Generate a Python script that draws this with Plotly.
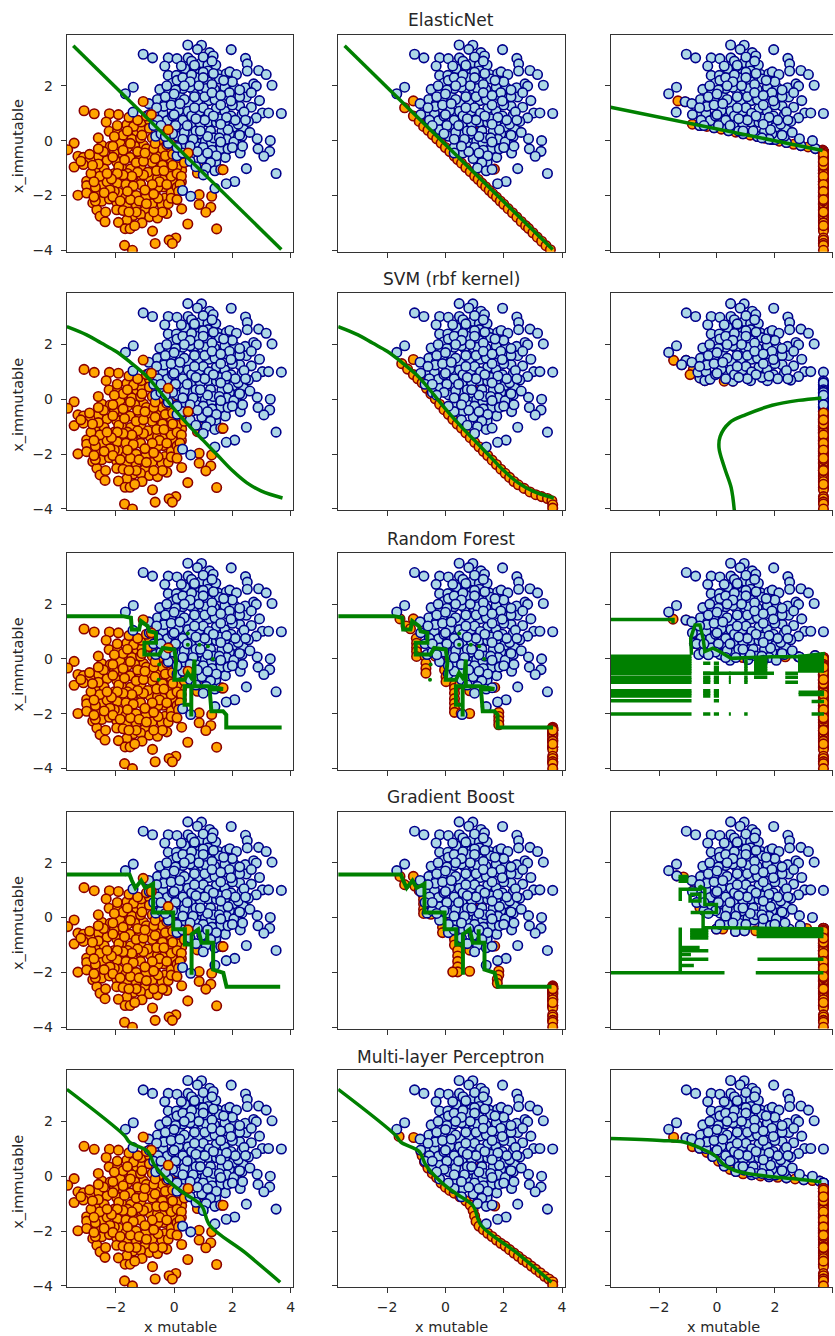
import numpy as np
import plotly.graph_objects as go

MODEL_TITLES = ["ElasticNet", "SVM (rbf kernel)", "Random Forest", "Gradient Boost", "Multi-layer Perceptron"]
X_TICKS = [-2, 0, 2, 4]
Y_TICKS = [-4, -2, 0, 2]

BLUE_X = [-1.06,-.74,.47,.94,.80,1.22,1.96,1.34,-.2,.1,.48,-.32,2.45,2.51,2.51,2.9,3.16,3.36,.94,1.16,1.43,.37,.25,.73,.88,1.16,-.2,.08,.46,.86,1.16,1.51,1.79,1.91,2.14,-.49,-.18,-1.4,-1.67,.19,.65,.97,1.39,1.74,2.08,2.44,2.73,2.82,2.48,2.93,1.79,2.1,1.19,.82,-.57,-.87,-.32,.06,.5,.88,1.45,1.74,2.65,2.25,3.03,3.24,3.68,2.82,2.33,-.66,-.38,.22,-.24,.48,1.16,1.45,1.74,2.02,2.37,.57,.19,.11,.57,.94,1.64,2.02,2.33,.94,1.07,1.59,1.28,2.85,3.3,2.88,3.28,3.08,2.27,1.03,1.76,1.43,2.48,3.5,2.08,1.79,.29,.57,-.63,-1.41,1.11,1.4,
    1.1,.7,1.4,1.0,.3,.55,-.1,.35,1.6,2,1.95,1.55,1.2,.9,.6,.3,-.05,-.2,.05,.35,.75,1.25,1.9,2.2,2.55,1.35,1.8,.45,.75,1.3,1.85,.6,1.0,1.45,.3,2.05,2.25,.15,.75,1.0,1.55,2.0,-.05,.05,-.35,-.55,-.85,-.1,1.9,2.25,.95,1.25,.55,.1,-.2,-.45,-.7,
    1.0,1.3,.6,.7,.1,.3,.6,1.0,1.35,1.7,1.3,.85,.55,.35,-.25,-.3,.0,-.6,.2,.7,1.05,1.3,1.6,1.95,2.25,2.65,2.4,2.1,1.8,1.35,1.05,.75,.45,.0,-.45,.3,.65,1.15,1.55,1.85,1.6,.9,.3,.8,1.15,1.6,2.0,2.35,2.6,2.45,-.05,-.3,.1,.55,1.1,1.0,.75,1.4,1.6]
BLUE_Y = [3.15,3.02,3.49,3.48,3.33,3.21,3.32,3.09,3.02,2.99,3.02,2.72,3.0,2.8,2.54,2.56,2.41,2.02,2.84,2.76,2.76,2.62,2.72,2.6,2.44,2.54,2.38,2.38,2.17,2.17,2.15,2.41,2.44,2.51,2.41,1.87,1.84,1.95,1.71,1.65,1.87,1.87,1.87,1.95,1.93,1.93,2.07,1.99,1.59,1.46,1.65,1.56,1.46,1.46,1.5,1.35,1.34,1.28,1.34,1.07,1.17,1.07,1.22,1.26,1.01,1.01,.99,.83,.95,.99,1.01,.99,.73,1.07,.68,.67,.68,.49,.46,.56,.56,.16,.22,.22,.34,.04,.16,-.09,-.02,-.3,-.09,.07,0,-.3,-.39,-.57,-.45,-.54,-.61,-.78,-1.02,-1.2,-1.49,-1.57,-1.82,-2.03,.16,1.04,-.75,-1.74,
    1.9,1.6,1.5,1.2,1.9,1.95,1.55,1.5,1.3,1.3,.9,.8,1,.6,.9,.75,.9,.4,.55,.3,.35,.35,.25,.6,.7,.1,.05,-.05,-.2,-.35,-.3,-.45,-.25,-.55,-.25,-.05,.2,1.1,2.3,2.5,2.25,2.15,2.1,1.85,1.25,.75,.95,1.3,1.75,1.6,-.65,-.8,-.75,-.55,-.1,.25,.55,
    3.05,2.9,2.9,2.75,2.2,2.3,2.4,2.3,2.45,2.2,2.05,2.0,2.15,2.0,2.0,1.6,1.7,1.2,1.35,1.2,1.6,1.75,1.65,1.45,1.85,1.75,1.05,.75,.85,.9,.75,.8,.55,.95,.55,.05,.05,.15,.1,.4,.6,.35,-.45,-.4,-.45,-.05,-.25,-.2,.3,.75,.25,.15,-.25,-.2,-1.0,-1.25,-.95,-1.1,-1.05]

ORANGE_X = [-3.09,-2.74,-2.22,-1.91,-2.33,-1.62,-2.23,-1.94,-1.57,-3.43,-3.65,-2.48,-2.19,-3.3,-3.11,-2.88,-2.59,-3.43,-3.11,-2.3,-1.97,-1.79,-1.51,-1.17,-.82,-.5,-.19,-1.05,-1.28,-1.11,-.19,-1.39,-1.13,-2.68,-2.4,-2.25,-1.79,-1.49,-1.14,-.59,-.25,.13,.26,.51,.8,1.66,.95,-3,-3,-2.45,-1.85,-1.43,-1.11,-.82,-.57,-.31,-.02,-.37,-3.3,-3,-2.65,-1.91,-1.45,-.82,-.97,-.65,-.31,0,-.42,.86,1.29,.86,1.26,1.09,.26,-2.79,-2.48,-2.22,-1.97,-2.65,-2.54,-2.37,-1.62,-1.97,-1.4,-1.62,-1.91,-1,-.85,-.57,-.25,.47,1.46,-1.68,-1.51,-.74,.06,-.17,-.06,-.65,-1.7,-1.43,
    -2.05,-1.85,-1.35,-1.3,-.95,-.75,-.4,-.1,-1.6,-2.05,-1.95,-1.65,-1.15,-.9,-.6,-.2,-.55,-1.3,-1.65,-2.05,-1.75,-1.45,-1.15,-.75,-.45,-.4,-.7,-2.3,-2.2,-.1,-.75,-1.3,-1.15,-1.75,-.55,-.85,-.45,-.15,
    -2.6,-2.42,-2.1,-1.9,-1.7,-1.6,-1.25,-1.05,-.65,-.3,-.05,.1,-.1,-.35,-.5,-.75,-1.05,-1.25,-1.45,-1.75,-1.95,-2.15,-2.55,-2.7,-2.4,-2.1,-1.85,-1.5,-1.2,-.95,-.55,-.2,-.1,.1,.25,.1,-1.4,-1,-.7,-.25,-1.6,-2.3,-2.85,-2.1,-1.75,-1.5,-1.0,-.65,-.25,-.1,-1.95,-1.55,-1.25,-.95,-1.6,-1.1,-.85,-.6,-.5,-1.3,-1.55,-2.35,-2.7,-.4,-.7,-1.1,-1.35,.1,.3,-.05,.35,
    -2.9,-2.8,-3.2,-2.75,-2.6,-2.6,-2.05,-2.75,.25,.2,.15,.1]
ORANGE_Y = [1.09,.98,.98,.95,.68,.58,.34,.34,.12,-.09,-.33,-.17,-.21,-.57,-.61,-.67,-.57,-.96,-.87,-.72,-.78,-.45,-.61,-.57,-.57,-.57,-.39,-.17,.34,.4,.4,.52,.68,-1.03,-1.03,-1.28,-1,-1.03,-.96,-.84,-.94,-.75,-1.08,-.45,-1.18,-1.06,-1,-1.48,-1.64,-1.6,-1.42,-1.48,-1.3,-1.36,-1.36,-1.34,-1.54,-1.69,-1.99,-1.91,-1.88,-1.88,-1.82,-1.88,-2.07,-1.91,-2.09,-1.99,-2.33,-1.97,-2.03,-2.33,-2.43,-2.61,-2.49,-2.27,-2.21,-2.13,-2.25,-2.52,-2.76,-2.96,-2.33,-2.52,-2.73,-2.9,-2.98,-2.55,-2.78,-2.82,-2.66,-3.04,-3.22,-3.21,-3.21,-3.3,-3.55,-3.63,-3.75,-3.75,-3.82,-4.0,
    -.45,-.1,-.2,-.8,-.3,-.8,-.9,-.7,-1.2,-1.2,-1.55,-1.6,-1.6,-1.15,-1.1,-1.15,-1.7,-2,-2.05,-1.85,.2,.05,.1,.1,.05,-.3,-.3,-1.5,-1.8,-1.9,-2.3,-2.35,-2.7,-2.55,.7,.75,1.0,.1,
    -.85,-.4,-.6,-.95,-.7,-.25,-.4,-.75,-.65,-.55,-.5,-.95,-1.3,-1.1,-1.5,-1.6,-1.25,-1.15,-1.3,-1.25,-1.2,-1.4,-1.3,-1.7,-1.9,-2.05,-2.2,-2.15,-2.2,-2.3,-2.1,-2.3,-2.1,-1.7,-1.5,-1.2,-1.65,-1.8,-1.95,-1.6,-1.85,-1.2,-1.2,-.2,-.35,-.1,-.45,-.1,-.15,0,.55,.85,.75,.9,.35,.2,.45,.35,.55,-2.6,-2.6,-2.6,-2.2,-2.6,-2.6,-3,-3.1,-.2,-.25,-.9,-.8,
    -.5,-.9,-.75,-1.5,-.3,.1,.15,-2.05,-1.3,-1.6,-1.85,-2.15]
ORANGE_TOP_X = [-1.06,-.78,-.2,.48,1.68]
ORANGE_TOP_Y = [1.43,.95,.4,-.45,-1.06]

CLIP_X = 3.68

EN_X = [-3.46,3.68]
EN_Y = [3.46,-3.97]
SVM_X = [-3.68,-3,-2.5,-2,-1.5,-1,-.5,0,.5,1,1.5,2,2.5,3,3.72]
SVM_Y = [2.65,2.35,2.05,1.75,1.35,.9,.3,-.35,-.95,-1.5,-2.05,-2.6,-3.05,-3.35,-3.6]
RF_X = [-3.68,-1.77,-1.48,-1.45,-1.2,-1.14,-.91,-.85,-.62,-.62,-1.02,-1.02,-.51,-.39,.01,.07,.01,.36,.47,.64,.7,.7,.36,.36,.59,.59,.59,1.16,1.68,1.22,1.28,1.68,1.79,1.79,3.69]
RF_Y = [1.56,1.56,1.5,1.07,1.07,1.38,1.2,1.01,.95,.59,.59,.16,.16,.4,.34,-.09,-.76,-.76,-.51,-.76,-.02,-1,-1,-1.67,-1.67,-2.1,-1,-1,-1.1,-1.12,-1.91,-1.91,-2.04,-2.5,-2.5]
RF_DOTS_X = [.47,.47,.87,1.16,1.33,-.51,-.53]
RF_DOTS_Y = [.93,.52,.52,.46,0,-.2,-.76]
GB_X = [-3.68,-1.53,-1.45,-1.33,-1.13,-.99,-.72,-.72,-.03,-.03,.37,.37,.6,.6,.6,.83,.94,1.14,1.14,1.14,1.34,1.34,1.69,1.8,3.64]
GB_Y = [1.57,1.57,1.35,1.08,1.35,1.08,1.23,.18,.18,-.43,-.43,-.98,-.98,-2.09,-.61,-.43,-.92,-.92,-.43,-.92,-.92,-1.9,-2.02,-2.52,-2.52]
MLP_X = [-3.68,-1.7,-1.53,-.9,-.67,-.09,.37,.94,1.23,2.44,3.64]
MLP_Y = [3.17,1.48,1.24,.9,.4,-.27,-.64,-1.07,-1.8,-2.79,-3.87]

EN2_X = [-1.4,-1.1,-.9,-.75,-.6,-.45,-.3,-.15,0,.15,.3,.42,.55,.7,.85,1,1.12,1.25,1.38,1.5,1.62,1.75,1.88,2,2.15,2.3,2.45,2.6,2.75,2.85,3,3.15,3.3,3.45,3.6,1.68,1.22,-1.1]
EN2_Y = [1.2,.9,.7,.52,.38,.22,.07,-.09,-.25,-.4,-.56,-.69,-.82,-.98,-1.13,-1.29,-1.41,-1.55,-1.68,-1.81,-1.93,-2.06,-2.2,-2.32,-2.48,-2.63,-2.79,-2.95,-3.1,-3.2,-3.36,-3.52,-3.67,-3.83,-3.98,-1.04,.4,1.45]
SVM2_X = [-1.5,-1.3,-1.1,-.95,-.8,-.65,-.5,-.35,-.2,-.05,.1,.25,.4,.55,.7,.85,1,1.15,1.3,1.45,1.6,1.75,1.9,2.05,2.2,2.35,2.5,2.7,2.9,3.1,3.3,3.5,3.65,3.68,3.68,-1.1,1.22]
SVM2_Y = [1.3,1.1,.9,.75,.6,.4,.2,.02,-.18,-.38,-.55,-.73,-.9,-1.05,-1.22,-1.4,-1.57,-1.73,-1.9,-2.05,-2.22,-2.38,-2.55,-2.7,-2.85,-3,-3.12,-3.25,-3.38,-3.48,-3.55,-3.62,-3.7,-3.85,-3.97,1.45,.4]
RF2_X = [-1.56,-1.1,-1.35,-1.2,-.75,-1.0,-.99,-.99,-.99,-.99,-.7,-.67,-.67,-.67,-.35,-.2,-.03,-.03,.02,.02,.31,.31,.31,.31,.31,.31,.31,.54,.83,.83,1.69,1.4,1.83,1.83,1.83,1.83,1.23,.1,.5]
RF2_Y = [1.46,1.46,1.2,1.1,1.1,.75,.57,.42,.27,.09,.1,-.16,-.35,-.52,.1,.05,-.2,-.4,-.65,-.83,-.95,-1.07,-1.25,-1.45,-1.62,-1.8,-1.95,-1.99,-1.99,-1.16,-1.04,-1.05,-1.95,-2.1,-2.25,-2.4,.41,-.5,-.9]
GB2_X = [-1.56,-1.1,-1.4,-1.05,-.9,-.78,-.75,-.75,-.75,-.75,-.5,-.2,-.1,-.08,-.1,-.1,.15,.31,.31,.31,.42,.42,.42,.42,.42,.25,.83,.83,1.69,1.83,1.83,1.78,1.78,1.23]
GB2_Y = [1.5,1.5,1.2,1.15,.98,.85,.65,.49,.3,.15,.12,.15,.05,-.15,-.35,-.55,-.55,-.6,-.8,-1,-1.2,-1.4,-1.6,-1.8,-1.98,-1.98,-1.96,-1.19,-1.04,-1.95,-2.1,-2.25,-2.4,.43]
MLP2_X = [-1.59,-1.09,-.84,-.72,-.21,.48,1.69,1.23,-.8,-.7,-.6,-.45,-.3,-.15,0,.15,.3,.5,.7,.85,.95,1,1.05,1.15,1.3,1.45,1.6,1.75,1.9,2.05,2.2,2.35,2.5,2.65,2.8,2.95,3.1,3.25,3.4,3.55,3.68,3.68]
MLP2_Y = [1.45,1.41,.9,.53,.4,-.45,-1.09,.38,.75,.5,.3,.1,-.05,-.25,-.4,-.52,-.62,-.75,-.9,-1.05,-1.25,-1.45,-1.65,-1.82,-1.95,-2.08,-2.2,-2.33,-2.45,-2.55,-2.68,-2.8,-2.92,-3.05,-3.15,-3.28,-3.4,-3.52,-3.65,-3.75,-3.85,-3.97]

RF_FLOOR_X = [-4,-1.5,-1.1,-.7,-.1,.3,.7,1.3,1.8,4]
RF_FLOOR_Y = [1.5,1.5,.1,-.1,-.8,-1.7,-2.2,-1.9,-2.5,-2.5]
GB_FLOOR_X = [-4,-1.5,-.75,-.1,.35,.7,1.3,1.8,4]
GB_FLOOR_Y = [1.5,1.5,.1,-.5,-1.7,-2.2,-1.9,-2.5,-2.5]

EN3_X = [-3.68,3.65]
EN3_Y = [1.22,-.36]
SVM3_X = [.6,.49,.26,.07,.11,.43,1,1.91,2.82,3.61]
SVM3_Y = [-4.07,-3.22,-2.5,-1.77,-1.35,-.86,-.56,-.22,-.04,.05]
MLP3_X = [-3.68,-1.95,-1.16,-.59,-.08,.26,.77,1.91,2.82,3.61]
MLP3_Y = [1.37,1.3,1.25,1.03,.76,.4,.16,-.02,-.11,-.21]

RF3_PATH_X = [-3.68,-1.52,-1.52,None,-.88,-.91,-.76,-.59,-.48,-.42,-.14,.09,.49,1.91,2.82,3.73]
RF3_PATH_Y = [1.44,1.44,1.3,None,.15,.75,1.24,1.24,.75,.27,.39,.27,.02,.08,.08,.2]
RF3_UPPER = [.1,.01,-.08,-.17,-.26,-.35,-.44,-.53]
RF3_MID = [-.67,-.77,-.85]
RF3_LOW = [-1.16,-1.25,-1.35]
RF3_LOWER = [-1.53]
RF3_BOTTOM = [-2.01]
GB3_PATH_A_X = [-3.68,.26,None,-1.27,-1.27]
GB3_PATH_A_Y = [-2.01,-2.01,None,-2.01,-.36]
GB3_PATH_B_X = [-1.27,-1.27,-.59,-.59,-.42,-.42,-.02,-.02,-.91,None,-.48,-.48,3.6,None,-.93,-.93,-.59,-.59,-.93]
GB3_PATH_B_Y = [.6,1.03,1.03,1.15,1.03,.48,.48,.18,.18,None,.18,-.36,-.42,None,.85,.6,.6,.85,.85]
GB3_BAND = [-.42,-.51,-.6,-.69]
GB3_STUB = [-.45,-.55,-.65,-.75]
GB3_TOP = [1.32,1.42,1.5]

EN3_RING_X = [-1.35,-1.1,-.85,-.6,-.35,-.1,.15,.4,.65,.9,1.15,1.4,1.65,1.9,2.15,2.4,2.65,2.9,3.15,3.4,3.65]
EN3_RING_Y = [1.45,1.42,.6,.55,.52,.47,.42,.36,.31,.25,.2,.15,.09,.04,-.02,-.07,-.13,-.18,-.23,-.29,-.34]
SVM3_RING_X = [-1.5,-1.07,-.82,-.59,-.31,-1.22,-.93,-.42,.25,.55]
SVM3_RING_Y = [1.42,1.42,1.08,.78,.72,1.26,.9,.68,.66,.66]
RF3_RING_X = [-1.52,-1.07,-.65,-.78,-.53,-.02,.49,1.17,1.99,2.82,-.36,.2,.89,1.68,2.36,3.39]
RF3_RING_Y = [1.45,1.42,.93,.57,.29,.39,.08,.36,.05,.08,.2,.14,.05,.05,.08,.12]
GB3_RING_X = [-1.16,-1.39,-.76,-.39,-.59,-.14,.26,-.02,.2,.64,1.34,1.2,.3,.95,1.9,2.5,3.1]
GB3_RING_Y = [1.48,1.52,1.07,.67,.36,.3,-.15,-.42,-.42,-.51,-.48,.41,.1,-.48,-.45,-.42,-.4]
MLP3_RING_X = [-1.5,-1.07,-.85,-.6,-.35,-.15,.05,.25,.45,.65,.9,1.2,1.5,1.8,2.1,2.4,2.7,3,3.3,3.55]
MLP3_RING_Y = [1.42,1.4,1.08,1.02,.87,.72,.55,.37,.25,.17,.09,.05,.01,-.02,-.04,-.06,-.1,-.13,-.16,-.18]

SVM3_FLOOR_X = [-4,-1.5,-1,-.4,4]
SVM3_FLOOR_Y = [1.6,1.45,1.05,.68,.68]
RF3_FLOOR_X = [-4,-1.5,-1.1,-.5,4]
RF3_FLOOR_Y = [1.3,1.3,.4,-.05,-.05]
GB3_FLOOR_X = [-4,-1.3,-.9,-.5,0,4]
GB3_FLOOR_Y = [1.2,1.1,.6,.2,-.3,-.35]

COL3_BLUE_THR = [-.36,.68,-.05,-.35,-.21]
COL3_ORANGE_THR = [-.35,-.45,.1,-.35,-.4]
COL2_ORANGE_THR = [None,None,-2.45,-2.45,None]

BX, BY, OX, OY = map(np.array, (BLUE_X, BLUE_Y, ORANGE_X, ORANGE_Y))

PANEL_W = 227
PANEL_H = 218
COL_LEFT = [67, 339, 612]
ROW_TOP = [35, 295, 556, 816, 1076]
TITLE_Y = [20, 280, 542, 801, 1063]
LABEL_Y = 1334
X_RANGE = [-3.68, 4.09]
Y_RANGE = [-4.05, 3.86]
PX_PER_X = PANEL_W / (X_RANGE[1] - X_RANGE[0])
W, H = 835, 1336

BLUE_STYLE = dict(color="#add8e6", size=9.5, line=dict(color="#00008b", width=1.6))
ORANGE_STYLE = dict(color="#ffa500", size=9.5, line=dict(color="#8b0000", width=1.6))
GREEN = "#008000"

fig = go.Figure()


def axes_id(r, c):
    n = r * 3 + c + 1
    return ("x" if n == 1 else f"x{n}"), ("y" if n == 1 else f"y{n}")


def pts(r, c, x, y, style):
    xa, ya = axes_id(r, c)
    fig.add_trace(go.Scatter(x=list(x), y=list(y), mode="markers", marker=style, xaxis=xa, yaxis=ya, showlegend=False, hoverinfo="skip"))


def line(r, c, x, y, width=3.5, shape="linear"):
    xa, ya = axes_id(r, c)
    fig.add_trace(go.Scatter(x=list(x), y=list(y), mode="lines", line=dict(color=GREEN, width=width, shape=shape), xaxis=xa, yaxis=ya, connectgaps=False, showlegend=False, hoverinfo="skip"))


def rows(x0, x1, ys):
    xs, yy = [], []
    for v in ys:
        xs += [x0, x1, None]
        yy += [v, v, None]
    return xs, yy


def above(floor_x, floor_y):
    return BY >= np.interp(BX, floor_x, floor_y)


COL1_LINES = [(EN_X, EN_Y), (SVM_X, SVM_Y), (RF_X, RF_Y), (GB_X, GB_Y), (MLP_X, MLP_Y)]
LINE_SHAPES = ["linear", "spline", "linear", "linear", "spline"]
LINE_WIDTHS = [3.5, 3.5, 4, 4, 3.5]
COL2_RINGS = [(EN2_X, EN2_Y), (SVM2_X, SVM2_Y), (RF2_X, RF2_Y), (GB2_X, GB2_Y), (MLP2_X, MLP2_Y)]
COL2_FLOORS = [(EN_X, EN_Y), (SVM_X, SVM_Y), (RF_FLOOR_X, RF_FLOOR_Y), (GB_FLOOR_X, GB_FLOOR_Y), (MLP_X, MLP_Y)]
COL3_RINGS = [(EN3_RING_X, EN3_RING_Y), (SVM3_RING_X, SVM3_RING_Y), (RF3_RING_X, RF3_RING_Y), (GB3_RING_X, GB3_RING_Y), (MLP3_RING_X, MLP3_RING_Y)]
COL3_FLOORS = [(EN3_X, EN3_Y), (SVM3_FLOOR_X, SVM3_FLOOR_Y), (RF3_FLOOR_X, RF3_FLOOR_Y), (GB3_FLOOR_X, GB3_FLOOR_Y), (MLP3_X, MLP3_Y)]

for r in range(5):
    # column 1
    pts(r, 0, OX, OY, ORANGE_STYLE)
    pts(r, 0, BX, BY, BLUE_STYLE)
    pts(r, 0, ORANGE_TOP_X, ORANGE_TOP_Y, ORANGE_STYLE)
    line(r, 0, *COL1_LINES[r], width=LINE_WIDTHS[r], shape=LINE_SHAPES[r])
    if r == 2:
        pts(r, 0, RF_DOTS_X, RF_DOTS_Y, dict(color=GREEN, size=4))

    # column 2
    rx, ry = COL2_RINGS[r]
    pts(r, 1, rx, ry, ORANGE_STYLE)
    if COL2_ORANGE_THR[r] is not None:
        m = OY < COL2_ORANGE_THR[r]
        pts(r, 1, np.full(m.sum(), CLIP_X), OY[m], ORANGE_STYLE)
    k = above(*COL2_FLOORS[r])
    pts(r, 1, BX[k], BY[k], BLUE_STYLE)
    line(r, 1, *COL1_LINES[r], width=LINE_WIDTHS[r], shape=LINE_SHAPES[r])
    if r == 2:
        pts(r, 1, RF_DOTS_X, RF_DOTS_Y, dict(color=GREEN, size=4))

    # column 3
    rx, ry = COL3_RINGS[r]
    pts(r, 2, rx, ry, ORANGE_STYLE)
    pts(r, 2, rx[1::2], ry[1::2], BLUE_STYLE)
    k = above(*COL3_FLOORS[r])
    pts(r, 2, BX[k], BY[k], BLUE_STYLE)
    m = BY < COL3_BLUE_THR[r]
    pts(r, 2, np.full(m.sum(), CLIP_X), BY[m], BLUE_STYLE)
    m = OY < COL3_ORANGE_THR[r]
    pts(r, 2, np.full(m.sum(), CLIP_X), OY[m], ORANGE_STYLE)

# green marks of column 3
line(0, 2, EN3_X, EN3_Y)
line(1, 2, SVM3_X, SVM3_Y, shape="spline")
line(4, 2, MLP3_X, MLP3_Y, shape="spline")

line(2, 2, RF3_PATH_X, RF3_PATH_Y)
RF3_ALL = RF3_UPPER + RF3_MID + RF3_LOW + RF3_LOWER + RF3_BOTTOM
rf_blocks = [
    (-3.68, -.88, RF3_ALL),
    (-.48, -.23, [-.16, -.52] + RF3_MID + RF3_LOW + RF3_BOTTOM),
    (-.11, .07, [-.16, -.3, -.42] + RF3_MID + RF3_LOW + RF3_LOWER + RF3_BOTTOM),
    (.41, .48, [-.52] + RF3_MID + RF3_BOTTOM),
    (.94, 1.06, [-.08, -.17, -.26, -.35, -.44] + RF3_MID + RF3_BOTTOM),
    (1.28, 1.74, RF3_UPPER[1:] + RF3_MID[:1]),
    (-.48, 1.97, [-.52]),
    (2.36, 2.8, [-.52, -.67, -.85]),
    (2.8, 3.7, RF3_UPPER[:-1]),
    (2.82, 3.7, [-1.22, -1.3]),
    (3.27, 3.7, [-1.55, -2.01]),
]
for x0, x1, ys in rf_blocks:
    line(2, 2, *rows(x0, x1, ys))

line(3, 2, GB3_PATH_A_X, GB3_PATH_A_Y)
line(3, 2, GB3_PATH_B_X, GB3_PATH_B_Y)
gb_blocks = [
    (1.34, 3.68, [-2.01]),
    (1.4, 3.68, [-1.52]),
    (1.37, 3.68, GB3_BAND),
    (-.93, -.3, GB3_STUB),
    (-1.27, -.3, [-1.52, -1.21]),
    (-1.27, -.6, [-1.09]),
    (-1.27, -.8, [-1.75]),
    (-1.27, -.9, [-1.35]),
    (-1.33, -.99, GB3_TOP),
]
for x0, x1, ys in gb_blocks:
    line(3, 2, *rows(x0, x1, ys))

layout = dict(
    width=W, height=H, margin=dict(l=0, r=0, t=0, b=0), paper_bgcolor="white", plot_bgcolor="white",
    font=dict(family="DejaVu Sans", color="#262626", size=14), showlegend=False,
)
annotations = []
for r in range(5):
    for c in range(3):
        n = r * 3 + c + 1
        left, top = COL_LEFT[c], ROW_TOP[r]
        right = min(left + PANEL_W, W)
        xr = [X_RANGE[0], max(X_RANGE[0] + (right - left) / PX_PER_X, 4.01)]
        xkey = "xaxis" if n == 1 else f"xaxis{n}"
        ykey = "yaxis" if n == 1 else f"yaxis{n}"
        xa, ya = axes_id(r, c)
        layout[xkey] = dict(
            domain=[left / W, right / W], range=xr, anchor=ya, tickmode="array", tickvals=X_TICKS,
            showticklabels=(r == 4), ticks="outside", ticklen=5, tickwidth=1, tickcolor="#333333",
            ticklabelstandoff=2,
            showline=True, linecolor="#333333", linewidth=1, mirror=True, showgrid=False, zeroline=False,
        )
        layout[ykey] = dict(
            domain=[1 - (top + PANEL_H) / H, 1 - top / H], range=Y_RANGE, anchor=xa, tickmode="array", tickvals=Y_TICKS,
            showticklabels=(c == 0), ticks="outside", ticklen=5, tickwidth=1, tickcolor="#333333",
            ticklabelstandoff=5,
            showline=True, linecolor="#333333", linewidth=1, mirror=(c != 2), showgrid=False, zeroline=False,
        )
    annotations.append(dict(text=MODEL_TITLES[r], xref="paper", yref="paper", x=(COL_LEFT[1] + PANEL_W / 2) / W, y=1 - TITLE_Y[r] / H,
                            showarrow=False, xanchor="center", yanchor="middle", font=dict(size=17)))
    annotations.append(dict(text="x_immutable", xref="paper", yref="paper", x=18 / W, y=1 - (ROW_TOP[r] + PANEL_H / 2 + 3) / H,
                            showarrow=False, textangle=-90, xanchor="center", yanchor="middle", font=dict(size=14.5)))
for c in range(3):
    annotations.append(dict(text="x mutable", xref="paper", yref="paper", x=(COL_LEFT[c] + PANEL_W / 2) / W, y=1 - LABEL_Y / H,
                            showarrow=False, xanchor="center", yanchor="middle", font=dict(size=14.5)))
layout["annotations"] = annotations
fig.update_layout(**layout)
fig.write_html(
    "out.html",
    config={"displayModeBar": False},
    post_script="document.body.style.margin='0';document.body.style.overflow='hidden';document.documentElement.style.overflow='hidden';",
)
